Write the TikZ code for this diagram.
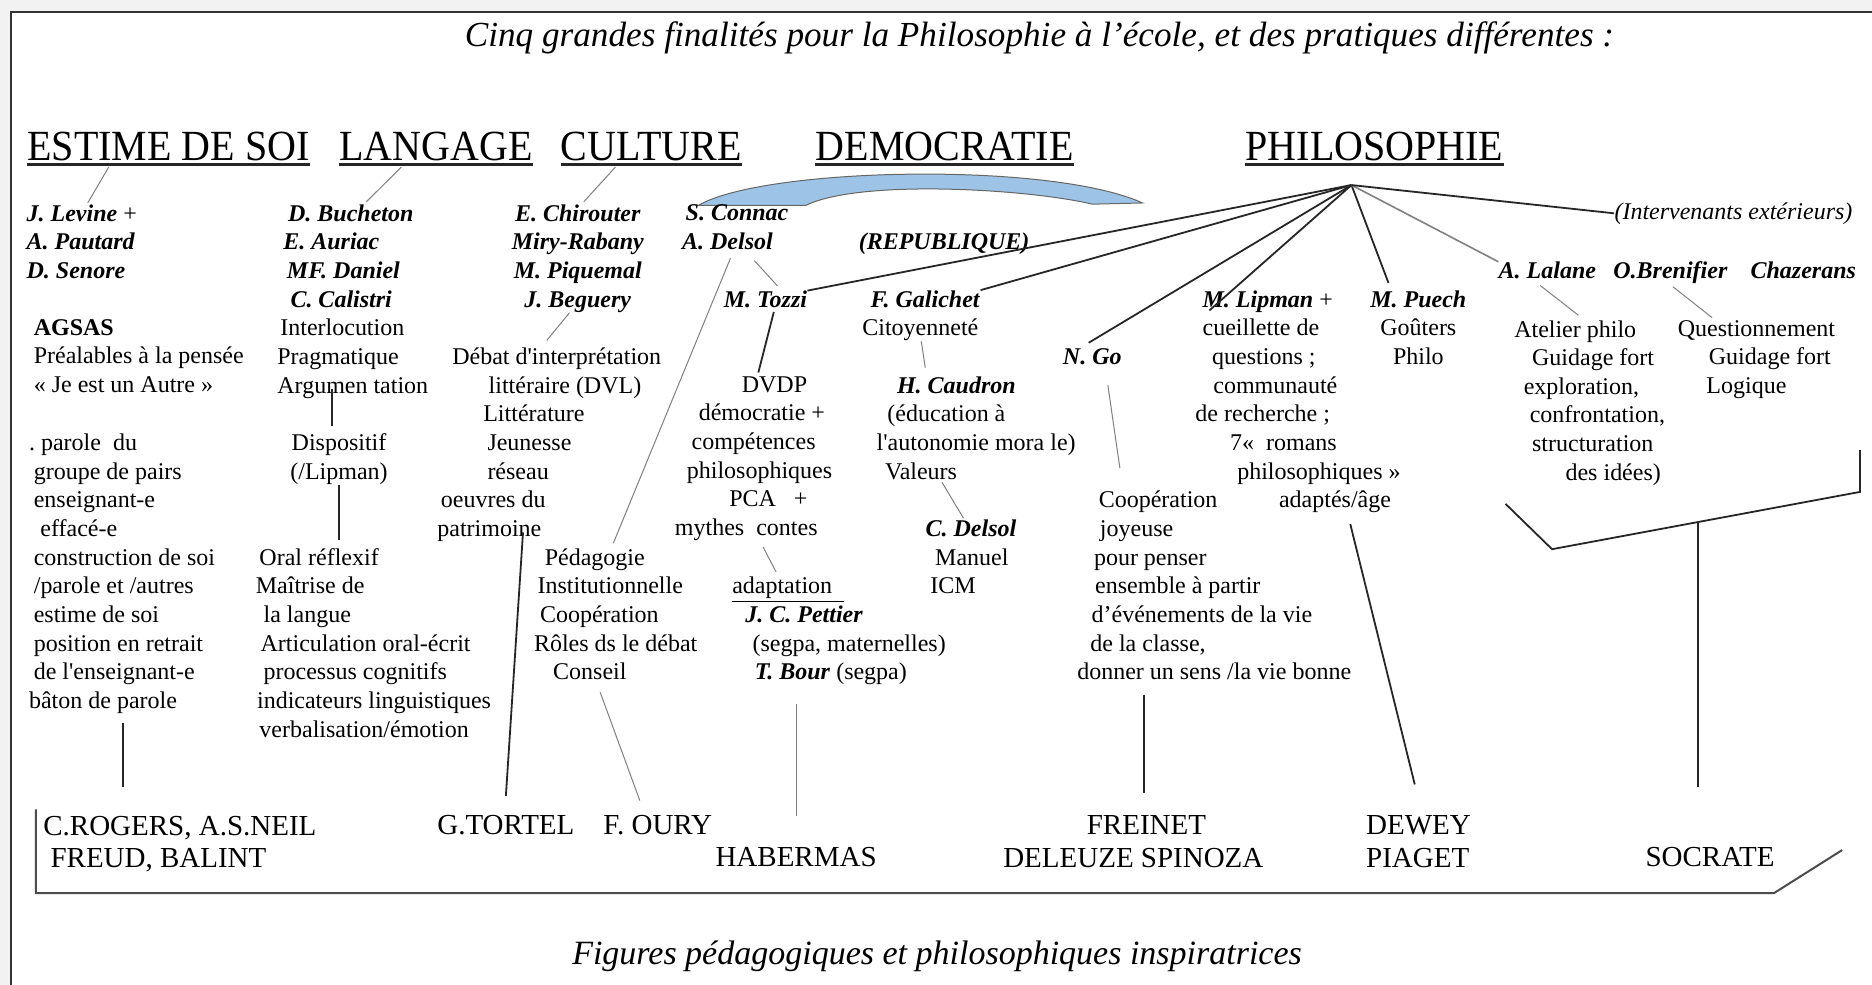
\documentclass[tikz,border=0pt]{standalone}
\usepackage{fontspec}
\setmainfont{Liberation Serif}
\newfontfamily\headfont[FakeStretch=0.93]{Liberation Serif}
\usetikzlibrary{calc}
\definecolor{skyblob}{RGB}{157,195,230}
\newcommand{\nm}[1]{\textbf{\textit{#1}}}
\newcommand{\sk}[1]{\hspace*{0.597\dimexpr #1pt\relax}}
\newcommand{\ap}{\textquotesingle}

\begin{document}
\begin{tikzpicture}[x=0.597pt, y=-0.597pt,
    txt/.style={inner sep=0pt, font=\fontsize{12}{14.33}\selectfont},
    head/.style={inner xsep=0pt, inner ysep=1.6pt, anchor=base west,
                 font=\headfont\fontsize{21.5}{24}\selectfont},
    big/.style={inner sep=0pt, font=\fontsize{14.5}{16.1}\selectfont},
    caption/.style={inner sep=0pt, anchor=base west, font=\itshape\fontsize{17}{20}\selectfont},
    link/.style={draw=black!85, line width=0.9pt},
    fine/.style={draw=black!50, line width=0.5pt},
    uline/.style={draw=black!85, line width=1.5pt}]

    \useasboundingbox (0,0) rectangle (1568,825);

    % Frame
    \fill[black!5] (0,0) rectangle (1568,825);
    \fill[white] (9,10) rectangle (1568,825);
    \draw[line width=1.2pt, black!80] (1568,10) -- (9,10) -- (9,825);

    % Title
    \node[caption, font=\itshape\fontsize{17.6}{20}\selectfont] (title) at (389,39)
        {Cinq grandes finalités pour la Philosophie à l'école, et des pratiques différentes :};

    % The five aims
    \node[head] (estime) at (22.6,134.5) {ESTIME DE SOI};
    \node[head] (langage) at (284,134.5) {LANGAGE};
    \node[head] (culture) at (469.5,134.5) {CULTURE};
    \node[head] (democ) at (683,134.5) {DEMOCRATIE};
    \node[head] (philo) at (1043,134.5) {PHILOSOPHIE};
    \foreach \h in {estime,langage,culture,democ,philo}
        \draw[uline] (\h.south west) -- (\h.south east);

    % Blue arch
    \filldraw[fill=skyblob, draw=black!60, line width=0.5pt]
        (585,172) .. controls (640,140) and (880,135) .. (957,170)
        -- (915,171) .. controls (860,158) and (720,150) .. (675,172) -- cycle;

    % ESTIME DE SOI
    \node[txt, align=left, anchor=north west] (levine) at (22,171)
        {\nm{J. Levine} +\\\nm{A. Pautard}\\\nm{D. Senore}};
    \node[txt, align=left, anchor=north west] (agsas) at (28,267)
        {\textbf{AGSAS}\\Préalables à la pensée\\« Je est un Autre »};
    \node[txt, align=left, anchor=north west] (parole) at (24,363)
        {.\ parole\ \ du\\\sk{4}groupe de pairs\\\sk{4}enseignant-e\\\sk{9.5}effacé-e\\
         \sk{4}construction de soi\\\sk{4}/parole et /autres\\\sk{4}estime de soi\\
         \sk{4}position en retrait\\\sk{4}de l\ap enseignant-e\\bâton de parole};

    % LANGAGE
    \node[txt, align=left, anchor=north west] (bucheton) at (237,171)
        {\sk{4}\nm{D. Bucheton}\\\nm{E. Auriac}\\\sk{3}\nm{MF. Daniel}\\\sk{6}\nm{C. Calistri}};
    \node[txt, align=left, anchor=north west] (interloc) at (232,267)
        {\sk{2.5}Interlocution\\Pragmatique\\Argumen tation};
    \node[txt, align=center, anchor=north] (dispo) at (284,363) {Dispositif\\(/Lipman)};
    \node[txt, align=left, anchor=north west] (oral) at (214,459)
        {\sk{3}Oral réflexif\\Maîtrise de\\\sk{6.5}la langue\\\sk{4}Articulation oral-écrit\\
         \sk{6.5}processus cognitifs\\\sk{1}indicateurs linguistiques\\\sk{3}verbalisation/émotion};

    % CULTURE
    \node[txt, align=center, anchor=north] (chirouter) at (484,171)
        {\nm{E. Chirouter}\\\nm{Miry-Rabany}\\\nm{M. Piquemal}\\\nm{J. Beguery}};
    \node[txt, align=left, anchor=north west] (debat) at (366,291)
        {\sk{12.5}Débat d\ap interprétation\\\sk{43}littéraire (DVL)\\\sk{38.5}Littérature\\
         \sk{42}Jeunesse\\\sk{42}réseau\\\sk{3}oeuvres du\\patrimoine};

    % DEMOCRATIE
    \node[txt, align=left, anchor=north west] (connac) at (571,171)
        {\sk{3}\nm{S. Connac}\\\nm{A. Delsol}};
    \node[txt, anchor=base west] (repub) at (719,208.7) {\nm{(REPUBLIQUE)}};
    \node[txt, anchor=base west] (tozzi) at (606,257.7) {\nm{M. Tozzi}};
    \node[txt, align=left, anchor=north west] (galichet) at (722,243)
        {\sk{7}\nm{F. Galichet}\\Citoyenneté};
    \node[txt, align=left, anchor=north west] (dvdp) at (565,315)
        {\sk{56}DVDP\\\sk{20}démocratie +\\\sk{14}compétences\\\sk{10}philosophiques\\
         \sk{45.5}PCA\ \ \ +\\mythes\ \ contes};
    \node[txt, align=left, anchor=north west] (pedago) at (447,459)
        {\sk{9}Pédagogie\\\sk{3}Institutionnelle\\\sk{5}Coopération\\Rôles ds le débat\\\sk{16}Conseil};
    \node[txt, align=left, anchor=north west] (adapt) at (613,483)
        {\underline{adaptation\hspace{6pt}}\\\sk{11}\nm{J. C. Pettier}\\
         \sk{17}(segpa, maternelles)\\\sk{19}\nm{T. Bour} (segpa)};
    \node[txt, align=left, anchor=north west] (caudron) at (734,315)
        {\sk{17}\nm{H. Caudron}\\\sk{9}(éducation à\\l\ap autonomie mora le)\\\sk{7}Valeurs};
    \node[txt, align=left, anchor=north west] (cdelsol) at (775,435)
        {\nm{C. Delsol}\\\sk{8}Manuel\\\sk{4}ICM};

    % PHILOSOPHIE
    \coordinate (hub) at (1132,155);
    \node[txt, anchor=base west] (ngo) at (890,305.7) {\nm{N. Go}};
    \node[txt, align=left, anchor=north west] (coop) at (902,411)
        {\sk{18}Coopération\\\sk{19}joyeuse\\\sk{14}pour penser\\\sk{15}ensemble à partir\\
         \sk{12}d'événements de la vie\\\sk{11}de la classe,\\donner un sens /la vie bonne};
    \node[txt, align=left, anchor=north west] (lipman) at (1001,243)
        {\sk{6}\nm{M. Lipman} +\\\sk{6}cueillette de\\\sk{14}questions ;\\\sk{15}communauté\\
         de recherche ;\\\sk{29}7«\ \ romans\\\sk{35}philosophiques »\\\sk{70}adaptés/âge};
    \node[txt, align=center, anchor=north] (puech) at (1188,243) {\nm{M. Puech}\\Goûters\\Philo};
    \node[txt, anchor=base west] (lalane) at (1255,233.5) {\nm{A. Lalane}};
    \node[txt, anchor=base west] (brenifier) at (1351,233.5) {\nm{O.Brenifier}};
    \node[txt, anchor=base west] (chazerans) at (1466,233.5) {\nm{Chazerans}};
    \node[txt, align=left, anchor=north west] (atelier) at (1268,268)
        {Atelier philo\\\sk{15}Guidage fort\\\sk{8}exploration,\\\sk{13}confrontation,\\
         \sk{15}structuration\\\sk{43}des idées)};
    \node[txt, align=left, anchor=north west] (question) at (1405,268)
        {Questionnement\\\sk{26}Guidage fort\\\sk{24}Logique};
    \node[txt, anchor=base west] (interv) at (1352,183.5) {\textit{(Intervenants extérieurs)}};

    % Inspiring figures
    \node[big, align=left, anchor=north west] (rogers) at (36,683)
        {C.ROGERS, A.S.NEIL\\\sk{6}FREUD, BALINT};
    \node[big, anchor=base west] (tortel) at (366,699) {G.TORTEL};
    \node[big, anchor=base west] (oury) at (505,699) {F. OURY};
    \node[big, anchor=base west] (habermas) at (599,726) {HABERMAS};
    \node[big, align=left, anchor=north west] (freinet) at (840,683)
        {\sk{70}FREINET\\DELEUZE SPINOZA};
    \node[big, align=left, anchor=north west] (dewey) at (1144,683) {DEWEY\\PIAGET};
    \node[big, anchor=base west] (socrate) at (1378,726) {SOCRATE};
    \node[caption] (caption) at (479,808) {Figures pédagogiques et philosophiques inspiratrices};

    % Links below the aims
    \draw[fine] ($(estime.south)+(-50,2)$) -- ($(levine.north)+(5,-1)$);
    \draw[fine] ($(langage.south)+(-29,2)$) -- ($(bucheton.north)+(15,-2)$);
    \draw[fine] ($(culture.south)+(-30,2)$) -- ($(chirouter.north)+(5,-2)$);
    \draw[fine] ($(chirouter.south)+(-7,0)$) -- ($(debat.north)+(-2,-6)$);
    \draw[fine] ($(connac.south)+(16,9)$) -- ($(tozzi.north)+(10,-4)$);
    \draw[fine] ($(connac.south)+(-4,7)$) -- ($(pedago.north)+(-2,-4)$);
    \draw[link] ($(tozzi.south)+(7,3)$) -- ($(dvdp.north)+(4,-3)$);
    \draw[fine] ($(dvdp.south)+(8,5)$) -- ($(adapt.north west)+(37,-4)$);
    \draw[link] ($(dispo.north |- interloc.south)+(-6,-8)$) -- ($(dispo.north)+(-6,-6)$);
    \draw[link] (dispo.south) -- ($(dispo.south |- oral.north)+(0,-7)$);
    \draw[fine] (galichet.south) -- ($(caudron.north west)+(41,-7)$);
    \draw[fine] ($(caudron.south west)+(55,2)$) -- ($(cdelsol.north west)+(32,-1)$);

    % Links from PHILOSOPHIE
    \draw[link] (hub) -- (tozzi.north east);
    \draw[link] (hub) -- (galichet.north east);
    \draw[link] (hub) -- ($(ngo.north)+(-3,-5)$);
    \draw[link] (hub) -- ($(lipman.north west)+(12,17)$);
    \draw[link] (hub) -- ($(puech.north)+(-25,-6)$);
    \draw[fine, line width=0.8pt] (hub) -- (lalane.north west);
    \draw[link] (hub) -- (interv.west);
    \draw[fine] ($(ngo.south)+(13,16)$) -- ($(coop.north west)+(36,-19)$);
    \draw[fine] ($(lalane.south)+(-6,5)$) -- ($(atelier.north west)+(54,-4)$);
    \draw[fine] ($(brenifier.south)+(2,2)$) -- ($(question.north west)+(29,-2)$);

    % Bracket over the right columns
    \coordinate (brL) at (1261,422);
    \coordinate (brM) at (1300,460);
    \coordinate (brR) at (1558,412);
    \coordinate (brT) at (1558,377);
    \draw[link] (brL) -- (brM) -- (brR) -- (brT);
    \coordinate (jct) at ($(brM)!0.473!(brR)$);

    % Links down to the figures
    \draw[link] ($(parole.south west)+(79,8)$) -- ($(parole.south west |- rogers.north)+(79,-24)$);
    \draw[link] ($(debat.south)+(-22,-8)$) -- ($(tortel.north)+(0,-16)$);
    \draw[fine] ($(pedago.south)+(-13,10)$) -- ($(oury.north)+(-15,-12)$);
    \draw[fine] ($(habermas.north |- adapt.south)+(0,16)$) -- ($(habermas.north)+(0,-26)$);
    \draw[link] ($(freinet.north |- coop.south)+(9,12)$) -- ($(freinet.north)+(9,-19)$);
    \draw[link] ($(lipman.south west)+(130,9)$) -- ($(dewey.north west)+(41,-26)$);
    \draw[link] (jct) -- ($(jct |- socrate.north)+(0,-50)$);

    % Bottom frame of the figures
    \draw[line width=1pt, black!70] (30,678) -- (30,748) -- (1486,748) -- (1543,712);
\end{tikzpicture}
\end{document}
